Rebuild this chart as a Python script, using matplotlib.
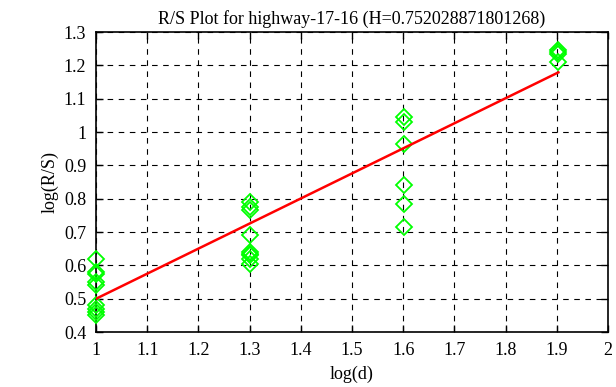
import matplotlib
matplotlib.use("Agg")
import matplotlib.pyplot as plt
import numpy as np

TITLE = "R/S Plot for highway-17-16 (H=0.752028871801268)"

# log(d) groups and the log(R/S) values read at each
LOG_D = [1.0, 1.30103, 1.60206, 1.90309]
RS_1 = [0.62, 0.58, 0.575, 0.55, 0.54, 0.48, 0.47, 0.46, 0.45]
RS_2 = [0.79, 0.775, 0.765, 0.69, 0.64, 0.635, 0.63, 0.62, 0.605]
RS_3 = [1.045, 1.03, 0.965, 0.84, 0.785, 0.715]
RS_4 = [1.245, 1.24, 1.235, 1.21]

H = 0.752028871801268
INTERCEPT = -0.252

plt.rcParams["font.family"] = ["Liberation Serif", "DejaVu Serif"]
plt.rcParams["font.size"] = 13

fig = plt.figure(figsize=(6.16, 3.87), dpi=100)
ax = fig.add_axes([0.156, 0.142, 0.831, 0.775])

xs = []
ys = []
for x, group in zip(LOG_D, [RS_1, RS_2, RS_3, RS_4]):
    xs += [x] * len(group)
    ys += group

ax.plot(xs, ys, linestyle="none", marker="D", markersize=8.5,
        markerfacecolor="none", markeredgecolor="#00ff00", markeredgewidth=1.3,
        zorder=3, clip_on=False)

fit_x = np.array([LOG_D[0], LOG_D[-1]])
ax.plot(fit_x, H * fit_x + INTERCEPT, color="#ff0000", linewidth=1.8, zorder=4)

ax.set_xlim(1, 2)
ax.set_ylim(0.4, 1.3)
ax.set_xticks(np.arange(1, 2.01, 0.1))
ax.set_xticklabels(["1", "1.1", "1.2", "1.3", "1.4", "1.5", "1.6", "1.7", "1.8", "1.9", "2"])
ax.set_yticks(np.arange(0.4, 1.31, 0.1))
ax.set_yticklabels(["0.4", "0.5", "0.6", "0.7", "0.8", "0.9", "1", "1.1", "1.2", "1.3"])
ax.grid(True, color="black", linestyle=(0, (5, 5)), linewidth=0.8)
ax.tick_params(direction="in", top=True, right=True, length=5, width=1, pad=7)
for s in ax.spines.values():
    s.set_linewidth(1.2)

ax.set_xlabel("log(d)", labelpad=5)
ax.set_ylabel("log(R/S)", labelpad=4)
ax.set_title(TITLE, fontsize=13, pad=6)

fig.savefig("out.png", dpi=100)
